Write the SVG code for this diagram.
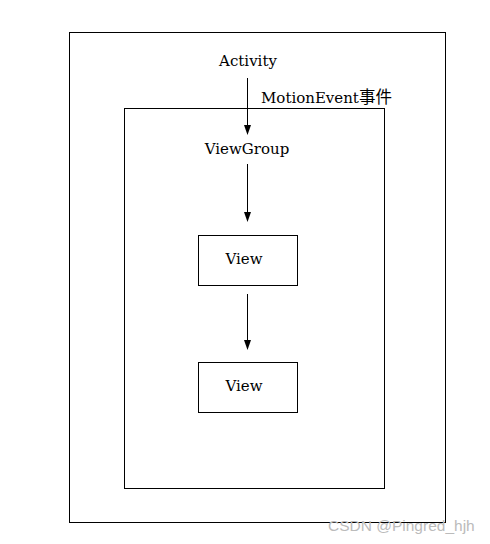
<svg xmlns="http://www.w3.org/2000/svg" width="490" height="544" viewBox="0 0 490 544">
<style>
.box{fill:#fff;stroke:#000;stroke-width:1}
.frame{fill:none;stroke:#000;stroke-width:1}
.t{font-family:"DejaVu Serif","Liberation Serif",serif;font-size:15px;fill:#000;text-anchor:middle}
.ln{stroke:#000;stroke-width:1;fill:none}
.hd{fill:#000}
.wm{font-family:"Liberation Sans",Arial,sans-serif;font-size:15.5px;fill:#bbb}
</style>
<rect width="490" height="544" fill="#fff"/>
<g id="outer"><rect class="frame" x="69.5" y="32.5" width="376" height="490"/></g>
<g id="inner"><rect class="frame" x="124.5" y="108.5" width="260" height="380"/></g>
<g id="activity"><text class="t" x="248" y="66">Activity</text></g>
<g id="motionevent"><text class="t" x="261" y="103" style="text-anchor:start">MotionEvent<tspan font-family="Noto Sans CJK SC, sans-serif" font-size="16.5">事件</tspan></text></g>
<g id="viewgroup"><text class="t" x="247" y="154">ViewGroup</text></g>
<g id="view1"><rect class="box" x="198.5" y="235.5" width="99" height="50"/><text class="t" x="244" y="264">View</text></g>
<g id="view2"><rect class="box" x="198.5" y="362.5" width="99" height="50"/><text class="t" x="244" y="391">View</text></g>
<g id="connectors">
<path class="ln" d="M247.5,78 V125"/>
<path class="hd" d="M244,125 L251,125 L247.5,135 Z"/>
<path class="ln" d="M247.5,164 V212"/>
<path class="hd" d="M244,212 L251,212 L247.5,222 Z"/>
<path class="ln" d="M247.5,294 V340"/>
<path class="hd" d="M244,340 L251,340 L247.5,350 Z"/>
</g>
<text class="wm" x="328" y="531">CSDN @Pingred_hjh</text>
</svg>
